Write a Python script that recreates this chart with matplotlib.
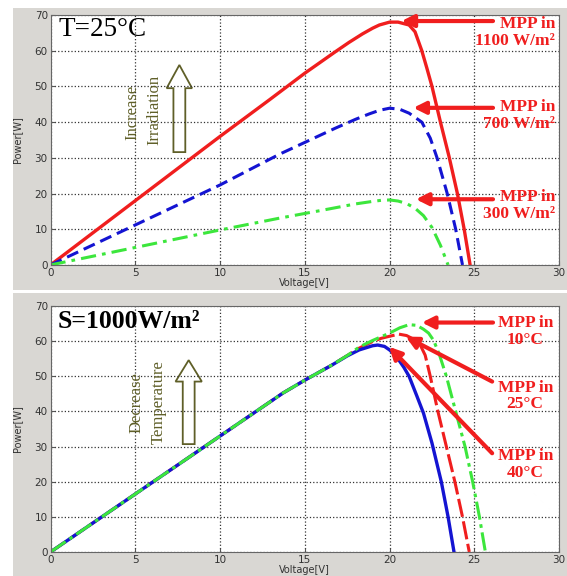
import numpy as np
import matplotlib
matplotlib.use("Agg")
import matplotlib.pyplot as plt
from matplotlib.patches import Rectangle, FancyArrow

# --- data ---
# top panel: T = 25 C, different irradiation
v_1100 = [0, 5, 10, 12.9, 15, 16.8, 17.6, 18.4, 19, 19.4, 20, 20.5, 21.15, 21.5, 21.9, 22.2, 22.5, 23.0, 23.5, 24.0, 24.4, 24.75]
p_1100 = [0, 18, 36, 46.2, 53.7, 59.7, 62.3, 64.7, 66.3, 67.2, 68, 68, 67.2, 65.3, 60, 55.1, 50, 40, 30.5, 20, 10, 0]
v_700 = [0, 5, 10, 13.5, 16.8, 18, 18.8, 19.4, 20, 20.6, 21.15, 21.9, 22.4, 22.8, 23.4, 23.9, 24.3]
p_700 = [0, 11.2, 22.4, 31, 38.3, 40.8, 42.3, 43.3, 43.9, 43.6, 42.5, 40, 35.5, 30, 20, 10, 0]
v_300 = [0, 5, 10, 13.5, 16, 18, 19, 19.5, 20, 20.5, 21, 21.5, 22, 22.5, 23, 23.45]
p_300 = [0, 4.9, 9.8, 13.1, 15.3, 17.1, 17.8, 18.1, 18.2, 17.9, 17.2, 15.9, 13.8, 10.5, 5.5, 0]

# bottom panel: S = 1000 W/m2, different temperature
v_40 = [0, 5, 10, 13.7, 15, 16.6, 17.5, 18.2, 19, 19.3, 19.7, 20, 20.4, 20.55, 20.85, 21.15, 21.6, 22.0, 22.5, 23.05, 23.45, 23.8]
p_40 = [0, 16.5, 33, 45.2, 48.9, 53.2, 55.8, 57.5, 58.7, 58.9, 58.5, 57.5, 55.8, 54.6, 52.5, 50, 44.5, 39.5, 31, 20, 10, 0]
v_25 = [0, 5, 10, 13.7, 15, 16.6, 17.5, 18.2, 19, 19.5, 20, 20.55, 21, 21.4, 21.8, 22.1, 22.4, 22.85, 23.35, 23.85, 24.3, 24.7]
p_25 = [0, 16.5, 33, 45.2, 48.9, 53.2, 55.9, 58, 59.9, 60.8, 61.4, 62, 61.6, 60.6, 59, 56, 50, 40, 30, 20, 10, 0]
v_10 = [0, 5, 10, 13.7, 15, 16.6, 17.5, 18.2, 19, 20, 20.6, 21.15, 21.6, 22, 22.3, 22.6, 22.95, 23.35, 23.9, 24.45, 24.9, 25.3, 25.65]
p_10 = [0, 16.5, 33, 45.2, 48.9, 53.2, 55.9, 58.3, 60.2, 62.3, 63.8, 64.7, 64.5, 63.4, 62.3, 60.2, 56, 50, 40, 30, 20, 10, 0]

x_ticks = [0, 5, 10, 15, 20, 25, 30]
y_ticks = [0, 10, 20, 30, 40, 50, 60, 70]

red = '#f01e1e'
blue = '#1414d2'
green = '#3ce63c'
olive = '#5f5f28'
serif = 'Liberation Serif'

fig = plt.figure(figsize=(5.67, 5.76), dpi=100)
fig.patch.set_facecolor('white')

# gray panels behind each plot
fig.patches.append(Rectangle((0.023, 0.497), 0.977, 0.489, transform=fig.transFigure,
                             facecolor='#d9d7d3', edgecolor='none', zorder=-10))
fig.patches.append(Rectangle((0.023, 0.0), 0.977, 0.492, transform=fig.transFigure,
                             facecolor='#d9d7d3', edgecolor='none', zorder=-10))

ax1 = fig.add_axes([0.0891, 0.540, 0.897, 0.434])
ax2 = fig.add_axes([0.0891, 0.0417, 0.897, 0.427])


def style(ax):
    ax.set_xlim(0, 30)
    ax.set_ylim(0, 70)
    ax.set_xticks(x_ticks)
    ax.set_yticks(y_ticks)
    ax.grid(True, linestyle=':', color='#333333', linewidth=0.9)
    ax.tick_params(direction='in', length=3, labelsize=7.5, colors='#555555',
                   labelcolor='#333333', pad=2)
    for s in ax.spines.values():
        s.set_color('#666666')
    ax.set_xlabel('Voltage[V]', fontsize=7, color='#333333', labelpad=0)
    ax.set_ylabel('Power[W]', fontsize=7, color='#333333', labelpad=9)


# top plot
style(ax1)
ax1.plot(v_1100, p_1100, color=red, lw=2.4)
ax1.plot(v_700, p_700, color=blue, lw=2.2, linestyle=(0, (4, 2)))
ax1.plot(v_300, p_300, color=green, lw=2.2, linestyle=(0, (5, 2, 1.2, 2)))

ax1.text(0.5, 66, 'T=25°C', family=serif, fontsize=19.5, va='center', ha='left')
ax1.text(4.85, 42.6, 'Increase', family=serif, fontsize=12, color=olive,
         rotation=90, ha='center', va='center')
ax1.text(6.15, 43.4, 'Irradiation', family=serif, fontsize=12, color=olive,
         rotation=90, ha='center', va='center')
ax1.add_patch(FancyArrow(7.6, 31.6, 0, 24.4, width=0.7, head_width=1.5, head_length=6.5,
                         length_includes_head=True, facecolor='white', edgecolor=olive, lw=1.3))

arrows_top = [((20.7, 68.3), (26.1, 68.3), 'MPP in\n1100 W/m²', 65.1),
              ((21.4, 44.0), (26.1, 44.0), 'MPP in\n700 W/m²', 41.9),
              ((21.55, 18.4), (26.1, 18.4), 'MPP in\n300 W/m²', 16.6)]
for head, tail, label, ty in arrows_top:
    ax1.annotate('', xy=head, xytext=tail,
                 arrowprops=dict(arrowstyle='-|>', color=red, lw=3, mutation_scale=18,
                                 shrinkA=0, shrinkB=0))
    ax1.text(29.75, ty, label, family=serif, fontweight='bold', fontsize=12.5, color=red,
             ha='right', va='center', multialignment='right', linespacing=1.05)

# bottom plot
style(ax2)
ax2.plot(v_25, p_25, color=red, lw=2.2, linestyle=(0, (6, 1.5)))
ax2.plot(v_40, p_40, color=blue, lw=2.4)
ax2.plot(v_10, p_10, color=green, lw=2.2, linestyle=(0, (6, 1.5, 1.2, 1.5)))

ax2.text(0.4, 65.5, 'S=1000W/m²', family=serif, fontweight='bold', fontsize=18.5,
         va='center', ha='left')
ax2.text(5.09, 42.4, 'Decrease', family=serif, fontsize=12, color=olive,
         rotation=90, ha='center', va='center')
ax2.text(6.38, 42.7, 'Temperature', family=serif, fontsize=12, color=olive,
         rotation=90, ha='center', va='center')
ax2.add_patch(FancyArrow(8.15, 30.7, 0, 23.9, width=0.7, head_width=1.55, head_length=6.1,
                         length_includes_head=True, facecolor='white', edgecolor=olive, lw=1.3))

arrows_bot = [((21.9, 65.3), (26.1, 65.3), 'MPP in\n10°C', 62.8),
              ((20.95, 61.3), (26.05, 48.5), 'MPP in\n25°C', 44.4),
              ((19.97, 58.4), (26.05, 28.1), 'MPP in\n40°C', 24.9)]
for head, tail, label, ty in arrows_bot:
    ax2.annotate('', xy=head, xytext=tail,
                 arrowprops=dict(arrowstyle='-|>', color=red, lw=3, mutation_scale=18,
                                 shrinkA=0, shrinkB=0))
    ax2.text(28.0, ty, label, family=serif, fontweight='bold', fontsize=12.5, color=red,
             ha='center', va='center', linespacing=1.05)

fig.savefig('out.png', dpi=100)
